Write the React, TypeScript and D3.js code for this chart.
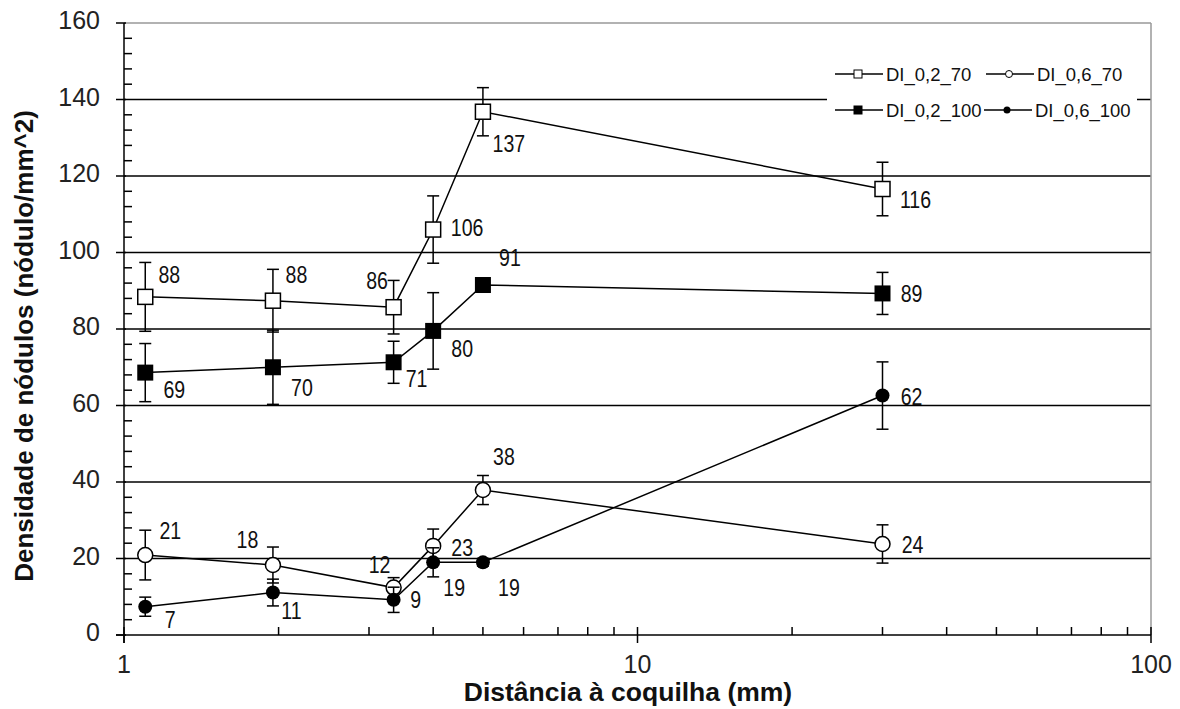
import React from 'react';
import * as d3 from 'd3';

// distance to the chill (mm) for each measurement
const distances = [1.1, 1.95, 3.35, 4, 5, 30];

const seriesNames = ['DI_0,2_70', 'DI_0,2_100', 'DI_0,6_70', 'DI_0,6_100'];

const di02_70 = [88.4, 87.4, 85.7, 106, 136.8, 116.6];
const di02_70Err = [9, 8.2, 7, 8.8, 6.3, 7];
const di02_70Labels = ['88', '88', '86', '106', '137', '116'];

const di02_100 = [68.6, 70, 71.3, 79.5, 91.5, 89.3];
const di02_100Err = [7.6, 9.7, 5.5, 10, 0, 5.5];
const di02_100Labels = ['69', '70', '71', '80', '91', '89'];

const di06_70 = [20.9, 18.3, 12.4, 23.3, 37.9, 23.8];
const di06_70Err = [6.5, 4.7, 2.6, 4.4, 3.8, 5];
const di06_70Labels = ['21', '18', '12', '23', '38', '24'];

const di06_100 = [7.4, 11.1, 9.2, 19, 19, 62.6];
const di06_100Err = [2.5, 3.5, 3.3, 3.8, 1, 8.8];
const di06_100Labels = ['7', '11', '9', '19', '19', '62'];

const yTicks = [0, 20, 40, 60, 80, 100, 120, 140, 160];
const xTickLabels = ['1', '10', '100'];

// where each value label sits relative to its point
const labelOffsets = [
  [[24, -22], [23.5, -26], [-16.5, -26], [34, -2], [26, 32], [33, 11]],
  [[29, 17], [29, 20], [23, 16], [29, 18], [27, -27], [29, 0]],
  [[25, -24.5], [-25.5, -25], [-14, -23], [29, 1.5], [21, -33], [30, 1]],
  [[25, 13], [18.5, 18], [22, 0], [21, 25], [26, 25], [29, 1]],
];

const W = 1180, H = 709;
const x = d3.scaleLog().domain([1, 100]).range([124, 1151]);
const y = d3.scaleLinear().domain([0, 160]).range([635, 23]);

const FONT = '"Liberation Sans", Arial, sans-serif';

const Marker = ({ kind, cx, cy }: { kind: number; cx: number; cy: number }) => {
  if (kind === 0) return <rect x={cx - 7.5} y={cy - 7.5} width={15} height={15} fill="#fff" stroke="#000" strokeWidth={1.5} />;
  if (kind === 1) return <rect x={cx - 8} y={cy - 8} width={16} height={16} fill="#000" />;
  if (kind === 2) return <circle cx={cx} cy={cy} r={7.5} fill="#fff" stroke="#000" strokeWidth={1.5} />;
  return <circle cx={cx} cy={cy} r={7} fill="#000" />;
};

const LegendMarker = ({ kind, cx, cy }: { kind: number; cx: number; cy: number }) => {
  if (kind === 0) return <rect x={cx - 4} y={cy - 4} width={8} height={8} fill="#fff" stroke="#000" strokeWidth={1} />;
  if (kind === 1) return <rect x={cx - 4.5} y={cy - 4.5} width={9} height={9} fill="#000" />;
  if (kind === 2) return <circle cx={cx} cy={cy} r={3.5} fill="#fff" stroke="#000" strokeWidth={1} />;
  return <circle cx={cx} cy={cy} r={3.5} fill="#000" />;
};

export default function App() {
  const series = [
    { vals: di02_70, err: di02_70Err, labels: di02_70Labels },
    { vals: di02_100, err: di02_100Err, labels: di02_100Labels },
    { vals: di06_70, err: di06_70Err, labels: di06_70Labels },
    { vals: di06_100, err: di06_100Err, labels: di06_100Labels },
  ];
  const line = d3.line<number>().x((_, i) => x(distances[i])).y(d => y(d));

  const minorY = d3.range(0, 161, 4).filter(v => v % 20 !== 0);
  const majorX = [1, 10, 100];
  const minorX = x.ticks().filter(v => !majorX.includes(v));

  // legend layout: 2 columns x 2 rows
  const legendPos = [
    { lx: 835, ly: 74 },
    { lx: 835, ly: 110 },
    { lx: 986, ly: 74 },
    { lx: 984, ly: 110 },
  ];

  return (
    <svg width={W} height={H} style={{ position: 'absolute', left: 0, top: 0, background: '#fff' }}>
      <defs>
        <clipPath id="legclip">
          <rect x={827} y={50} width={307} height={80} />
        </clipPath>
      </defs>

      {/* gridlines */}
      {yTicks.filter(v => v > 0 && v < 160).map(v => (
        <line key={v} x1={x(1)} x2={x(100)} y1={y(v)} y2={y(v)} stroke="#000" strokeWidth={1.5} />
      ))}
      {/* top and right frame */}
      <line x1={x(1)} x2={x(100)} y1={y(160)} y2={y(160)} stroke="#999" strokeWidth={1.5} />
      <line x1={x(100)} x2={x(100)} y1={y(160)} y2={y(0)} stroke="#999" strokeWidth={1.5} />

      {/* y axis */}
      <line x1={x(1)} x2={x(1)} y1={y(160)} y2={y(0) + 8} stroke="#000" strokeWidth={1.5} />
      {yTicks.map(v => (
        <g key={v}>
          <line x1={x(1) - 8} x2={x(1) + 2} y1={y(v)} y2={y(v)} stroke="#000" strokeWidth={1.5} />
          <text x={100} y={y(v) + 6} textAnchor="end" fontFamily={FONT} fontSize={25} fill="#222">{v}</text>
        </g>
      ))}
      {minorY.map(v => (
        <line key={v} x1={x(1)} x2={x(1) + 8} y1={y(v)} y2={y(v)} stroke="#000" strokeWidth={1.5} />
      ))}

      {/* x axis */}
      <line x1={x(1) - 8} x2={x(100)} y1={y(0)} y2={y(0)} stroke="#000" strokeWidth={1.5} />
      {majorX.map((v, i) => (
        <g key={v}>
          <line x1={x(v)} x2={x(v)} y1={y(0) - 8} y2={y(0) + 8} stroke="#000" strokeWidth={1.5} />
          <text x={x(v)} y={673} textAnchor="middle" fontFamily={FONT} fontSize={25} fill="#222">{xTickLabels[i]}</text>
        </g>
      ))}
      {minorX.map(v => (
        <line key={v} x1={x(v)} x2={x(v)} y1={y(0) - 8} y2={y(0)} stroke="#000" strokeWidth={1.5} />
      ))}

      {/* series */}
      {series.map((s, si) => (
        <g key={si}>
          <path d={line(s.vals) || ''} fill="none" stroke="#000" strokeWidth={1.5} />
          {s.vals.map((v, i) => s.err[i] > 0 && (
            <g key={i} stroke="#000" strokeWidth={1.5}>
              <line x1={x(distances[i])} x2={x(distances[i])} y1={y(v + s.err[i])} y2={y(v - s.err[i])} />
              <line x1={x(distances[i]) - 6} x2={x(distances[i]) + 6} y1={y(v + s.err[i])} y2={y(v + s.err[i])} />
              <line x1={x(distances[i]) - 6} x2={x(distances[i]) + 6} y1={y(v - s.err[i])} y2={y(v - s.err[i])} />
            </g>
          ))}
          {s.vals.map((v, i) => (
            <Marker key={i} kind={si} cx={x(distances[i])} cy={y(v)} />
          ))}
        </g>
      ))}

      {/* value labels */}
      {series.map((s, si) => s.vals.map((v, i) => (
        <text key={si + '-' + i}
          transform={`translate(${x(distances[i]) + labelOffsets[si][i][0]},${y(v) + labelOffsets[si][i][1]}) scale(0.85,1)`}
          dy="0.36em" textAnchor="middle" fontFamily={FONT} fontSize={23} fill="#111">{s.labels[i]}</text>
      )))}

      {/* legend */}
      <rect x={827} y={55} width={310} height={73} fill="#fff" />
      <g clipPath="url(#legclip)">
        {seriesNames.map((name, si) => {
          const p = legendPos[si];
          return (
            <g key={name}>
              <line x1={p.lx} x2={p.lx + 48} y1={p.ly} y2={p.ly} stroke="#000" strokeWidth={1.5} />
              <LegendMarker kind={si} cx={p.lx + 23} cy={p.ly} />
              <text x={p.lx + 51} y={p.ly + 6.5} fontFamily={FONT} fontSize={18.5} fill="#111">{name}</text>
            </g>
          );
        })}
      </g>

      {/* axis titles */}
      <text x={628} y={701} textAnchor="middle" fontFamily={FONT} fontWeight="bold" fontSize={26.5} fill="#111">Distância à coquilha (mm)</text>
      <text transform={`translate(33,346) rotate(-90)`} textAnchor="middle" fontFamily={FONT}
        fontWeight="bold" fontSize={26} fill="#111">Densidade de nódulos (nódulo/mm^2)</text>
    </svg>
  );
}
